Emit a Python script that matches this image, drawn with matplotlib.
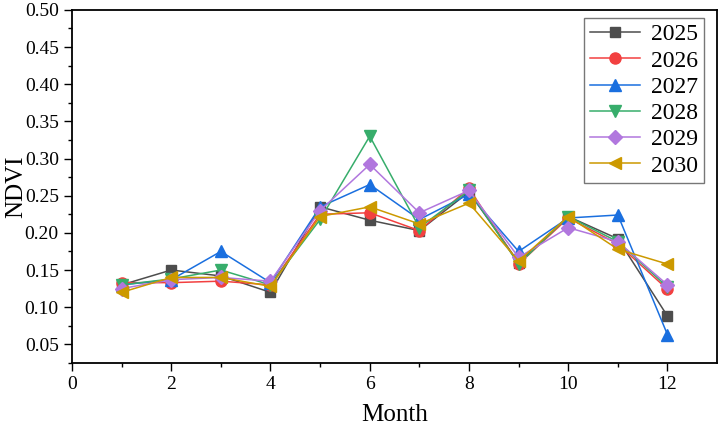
import matplotlib
matplotlib.use("Agg")
import matplotlib.pyplot as plt
from matplotlib.ticker import MultipleLocator, FormatStrFormatter

months = [1, 2, 3, 4, 5, 6, 7, 8, 9, 10, 11, 12]
years = ["2025", "2026", "2027", "2028", "2029", "2030"]
ndvi_2025 = [0.130, 0.150, 0.142, 0.120, 0.235, 0.217, 0.203, 0.255, 0.160, 0.222, 0.192, 0.088]
ndvi_2026 = [0.133, 0.133, 0.135, 0.130, 0.225, 0.227, 0.203, 0.260, 0.158, 0.220, 0.185, 0.124]
ndvi_2027 = [0.130, 0.137, 0.175, 0.133, 0.235, 0.265, 0.218, 0.252, 0.175, 0.220, 0.224, 0.063]
ndvi_2028 = [0.130, 0.138, 0.150, 0.130, 0.218, 0.330, 0.207, 0.257, 0.158, 0.222, 0.188, 0.127]
ndvi_2029 = [0.125, 0.137, 0.140, 0.135, 0.230, 0.292, 0.227, 0.257, 0.167, 0.207, 0.188, 0.130]
ndvi_2030 = [0.120, 0.140, 0.140, 0.128, 0.222, 0.235, 0.212, 0.240, 0.162, 0.222, 0.178, 0.158]

series = [ndvi_2025, ndvi_2026, ndvi_2027, ndvi_2028, ndvi_2029, ndvi_2030]
colors = ["#4d4d4d", "#f24040", "#1a6fdf", "#37ad6b", "#b177de", "#cc9900"]
markers = ["s", "o", "^", "v", "D", "<"]
sizes = [7, 8, 9, 9, 7, 9]

plt.rcParams["font.family"] = ["Liberation Serif", "DejaVu Serif"]

fig, ax = plt.subplots(figsize=(7.2, 4.28), dpi=100)
fig.subplots_adjust(left=0.1, right=0.996, top=0.977, bottom=0.152)

for vals, year, c, m, s in zip(series, years, colors, markers, sizes):
    ax.plot(months, vals, color=c, marker=m, markersize=s, linewidth=1.1, label=year)

ax.set_xlim(0, 13)
ax.set_ylim(0.025, 0.5)
ax.set_xticks([0, 2, 4, 6, 8, 10, 12])
ax.set_xticks([1, 3, 5, 7, 9, 11], minor=True)
ax.set_yticks([0.05, 0.10, 0.15, 0.20, 0.25, 0.30, 0.35, 0.40, 0.45, 0.50])
ax.yaxis.set_minor_locator(MultipleLocator(0.025))
ax.yaxis.set_major_formatter(FormatStrFormatter("%.2f"))
ax.tick_params(which="major", direction="out", length=6, width=1, labelsize=14)
ax.tick_params(which="minor", direction="out", length=3, width=1)
for sp in ax.spines.values():
    sp.set_linewidth(1.3)

ax.set_xlabel("Month", fontsize=18, labelpad=8)
ax.set_ylabel("NDVI", fontsize=18)
ax.yaxis.set_label_coords(-0.07, 0.5)

leg = ax.legend(loc="upper right", fontsize=17, frameon=True, fancybox=False,
                edgecolor="#555555", handlelength=2.1, labelspacing=0.2,
                borderpad=0.25, handletextpad=0.5, borderaxespad=0,
                bbox_to_anchor=(0.98, 0.977))
leg.get_frame().set_linewidth(1.0)

fig.savefig("out.png", dpi=100)
